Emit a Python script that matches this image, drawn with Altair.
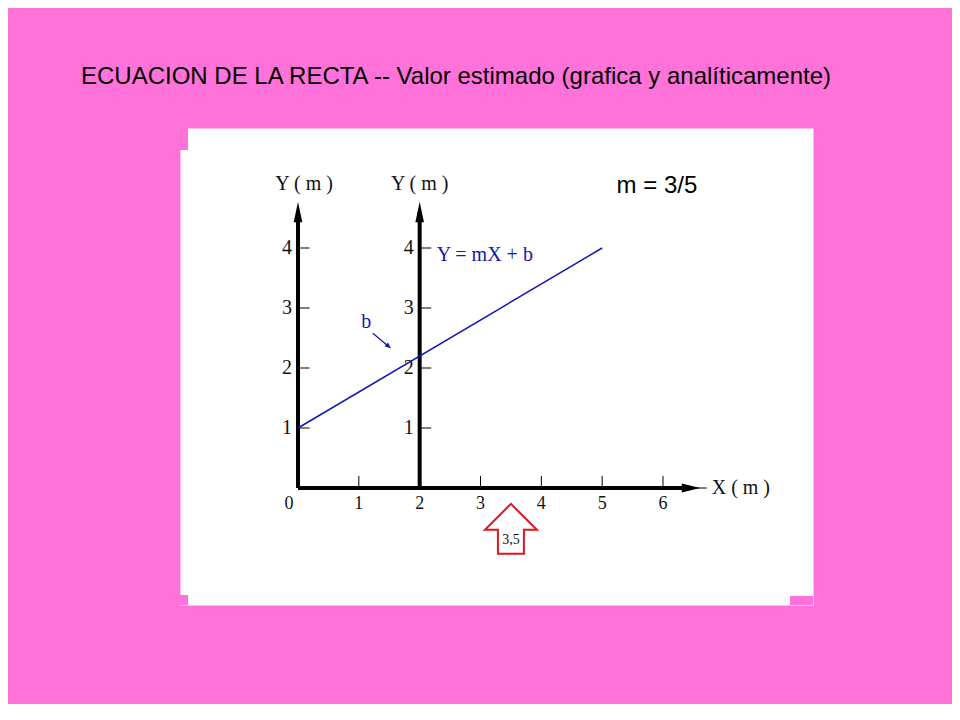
import altair as alt
import pandas as pd

# ---------------- data / text ----------------
TITLE = "ECUACION DE LA RECTA -- Valor estimado (grafica y analíticamente)"
slope_text = "m = 3/5"
eq_text = "Y = mX + b"
b_text = "b"
x_unit = "X ( m )"
y_unit = "Y ( m )"

x_ticks = [1, 2, 3, 4, 5, 6]
y_ticks = [1, 2, 3, 4]
y_axes_at = [0, 2]          # the two vertical axes (X value)
axis_y_top = 4.6            # vertical axes run up to here (arrowhead centre)
axis_x_end = 6.46           # horizontal axis runs to here (arrowhead centre)
axis_x_tail = 6.72
line_x = [0, 5]             # Y = 3/5 X + 1
line_y = [1, 4]
x_est = 3.5
x_est_text = "3,5"

# annotation anchor points (data units)
slope_pos = (5.90, 5.03)
eq_pos = (3.07, 3.88)
b_pos = (1.12, 2.77)
b_arrow = ([1.23, 1.49], [2.58, 2.36])
y_unit_x = [0.10, 2.0]
y_unit_y = 5.07
x_unit_pos = (7.28, 0.0)
est_arrow_y = -0.68
est_text_y = -0.86

# ---------------- styles ----------------
PINK = "#FF72D9"
BLUE = "#1616B4"
RED = "#E0161E"
SERIF = "Liberation Serif"
SANS = "Liberation Sans"

xs = alt.Scale(domain=[-1.940, 8.466], zero=False, nice=False)
ys = alt.Scale(domain=[-1.95, 6.0], zero=False, nice=False)


def X(f="x"):
    return alt.X(f"{f}:Q", scale=xs, axis=None)


def Y(f="y"):
    return alt.Y(f"{f}:Q", scale=ys, axis=None)


one = pd.DataFrame({"k": [0]})


def notch(x, x2, y, y2):
    return alt.Chart(one).mark_rect(color=PINK).encode(
        x=alt.value(x), x2=alt.value(x2), y=alt.value(y), y2=alt.value(y2)
    )


notches = [notch(0, 8, 0, 22), notch(0, 8, 467, 477), notch(610, 633, 468, 477)]

# axes
axes_df = pd.DataFrame(
    [{"x": a, "y": 0, "x2": a, "y2": axis_y_top} for a in y_axes_at]
    + [{"x": 0, "y": 0, "x2": axis_x_end, "y2": 0}]
)
axes = alt.Chart(axes_df).mark_rule(color="black", strokeWidth=4).encode(
    x=X(), y=Y(), x2="x2:Q", y2="y2:Q"
)
tail = alt.Chart(pd.DataFrame({"x": [axis_x_end], "x2": [axis_x_tail], "y": [0]})).mark_rule(
    color="black", strokeWidth=1
).encode(x=X(), x2="x2:Q", y=Y())

v_heads = alt.Chart(pd.DataFrame({"x": y_axes_at, "y": [axis_y_top] * len(y_axes_at)})).mark_point(
    shape="M0,-1L0.42,1L-0.42,1Z", size=420, filled=True, color="black", opacity=1
).encode(x=X(), y=Y())
h_head = alt.Chart(pd.DataFrame({"x": [axis_x_end], "y": [0]})).mark_point(
    shape="M1,0L-1,0.5L-1,-0.5Z", size=340, filled=True, color="black", opacity=1
).encode(x=X(), y=Y())

# ticks
yt_df = pd.DataFrame(
    [{"x": a, "x2": a + 0.19, "y": v, "t": str(v)} for a in y_axes_at for v in y_ticks]
)
y_tick_marks = alt.Chart(yt_df).mark_rule(color="black", strokeWidth=1).encode(
    x=X(), x2="x2:Q", y=Y()
)
y_tick_text = alt.Chart(yt_df).mark_text(
    font=SERIF, fontSize=20, color="#111", align="center", baseline="middle", dx=-11
).encode(x=X(), y=Y(), text="t:N")

xt_df = pd.DataFrame({"x": x_ticks, "y": [0] * len(x_ticks), "y2": [0.2] * len(x_ticks),
                      "t": [str(v) for v in x_ticks]})
x_tick_marks = alt.Chart(xt_df).mark_rule(color="black", strokeWidth=1).encode(
    x=X(), y=Y(), y2="y2:Q"
)
x_tick_text = alt.Chart(xt_df).mark_text(
    font=SERIF, fontSize=18, color="#111", align="center", baseline="middle", dy=16
).encode(x=X(), y=Y(), text="t:N")
zero_text = alt.Chart(pd.DataFrame({"x": [0], "y": [0], "t": ["0"]})).mark_text(
    font=SERIF, fontSize=18, color="#111", align="center", baseline="middle", dy=16, dx=-9
).encode(x=X(), y=Y(), text="t:N")

# unit labels
yu = alt.Chart(pd.DataFrame({"x": y_unit_x, "y": [y_unit_y] * 2, "t": [y_unit] * 2})).mark_text(
    font=SERIF, fontSize=20, color="#111", align="center", baseline="middle"
).encode(x=X(), y=Y(), text="t:N")
xu = alt.Chart(pd.DataFrame({"x": [x_unit_pos[0]], "y": [x_unit_pos[1]], "t": [x_unit]})).mark_text(
    font=SERIF, fontSize=20, color="#111", align="center", baseline="middle"
).encode(x=X(), y=Y(), text="t:N")

# the line
line = alt.Chart(pd.DataFrame({"x": line_x, "y": line_y})).mark_line(
    color=BLUE, strokeWidth=1.5
).encode(x=X(), y=Y())

eq = alt.Chart(pd.DataFrame({"x": [eq_pos[0]], "y": [eq_pos[1]], "t": [eq_text]})).mark_text(
    font=SERIF, fontSize=20, color=BLUE, align="center", baseline="middle"
).encode(x=X(), y=Y(), text="t:N")
b_lbl = alt.Chart(pd.DataFrame({"x": [b_pos[0]], "y": [b_pos[1]], "t": [b_text]})).mark_text(
    font=SERIF, fontSize=20, color=BLUE, align="center", baseline="middle"
).encode(x=X(), y=Y(), text="t:N")
b_arr = alt.Chart(pd.DataFrame({"x": [b_arrow[0][0]], "x2": [b_arrow[0][1]],
                                "y": [b_arrow[1][0]], "y2": [b_arrow[1][1]]})).mark_rule(
    color=BLUE, strokeWidth=1.3
).encode(x=X(), y=Y(), x2="x2:Q", y2="y2:Q")
b_head = alt.Chart(pd.DataFrame({"x": [b_arrow[0][1]], "y": [b_arrow[1][1]]})).mark_point(
    shape="M0,-1L0.8,1L-0.8,1Z", size=40, angle=131, filled=True, color=BLUE, opacity=1
).encode(x=X(), y=Y())

slope = alt.Chart(pd.DataFrame({"x": [slope_pos[0]], "y": [slope_pos[1]], "t": [slope_text]})).mark_text(
    font=SANS, fontSize=24, color="black", align="center", baseline="middle"
).encode(x=X(), y=Y(), text="t:N")

# estimate arrow
est = alt.Chart(pd.DataFrame({"x": [x_est], "y": [est_arrow_y]})).mark_point(
    shape="M0,-0.96L1,0.04L0.5,0.04L0.5,0.96L-0.5,0.96L-0.5,0.04L-1,0.04Z",
    size=2704, filled=True, fill="white", stroke=RED, strokeWidth=2, opacity=1,
).encode(x=X(), y=Y())
est_t = alt.Chart(pd.DataFrame({"x": [x_est], "y": [est_text_y], "t": [x_est_text]})).mark_text(
    font=SERIF, fontSize=14, color="#111", align="center", baseline="middle"
).encode(x=X(), y=Y(), text="t:N")

chart = alt.layer(
    *notches, axes, tail, v_heads, h_head, y_tick_marks, y_tick_text, x_tick_marks,
    x_tick_text, zero_text, yu, xu, line, eq, b_lbl, b_arr, b_head, slope, est, est_t
).properties(
    width=633,
    height=477,
    autosize=alt.AutoSizeParams(type="none"),
    padding={"left": 172, "top": 120, "right": 139, "bottom": 99},
    background=PINK,
    title=alt.Title(
        TITLE, anchor="start", dx=-99, offset=20, fontSize=24, font=SANS,
        fontWeight="normal", color="black", baseline="alphabetic"
    ),
).configure_view(fill="white", stroke="transparent")

chart.save("out.html", embed_options={"renderer": "svg", "actions": False})
